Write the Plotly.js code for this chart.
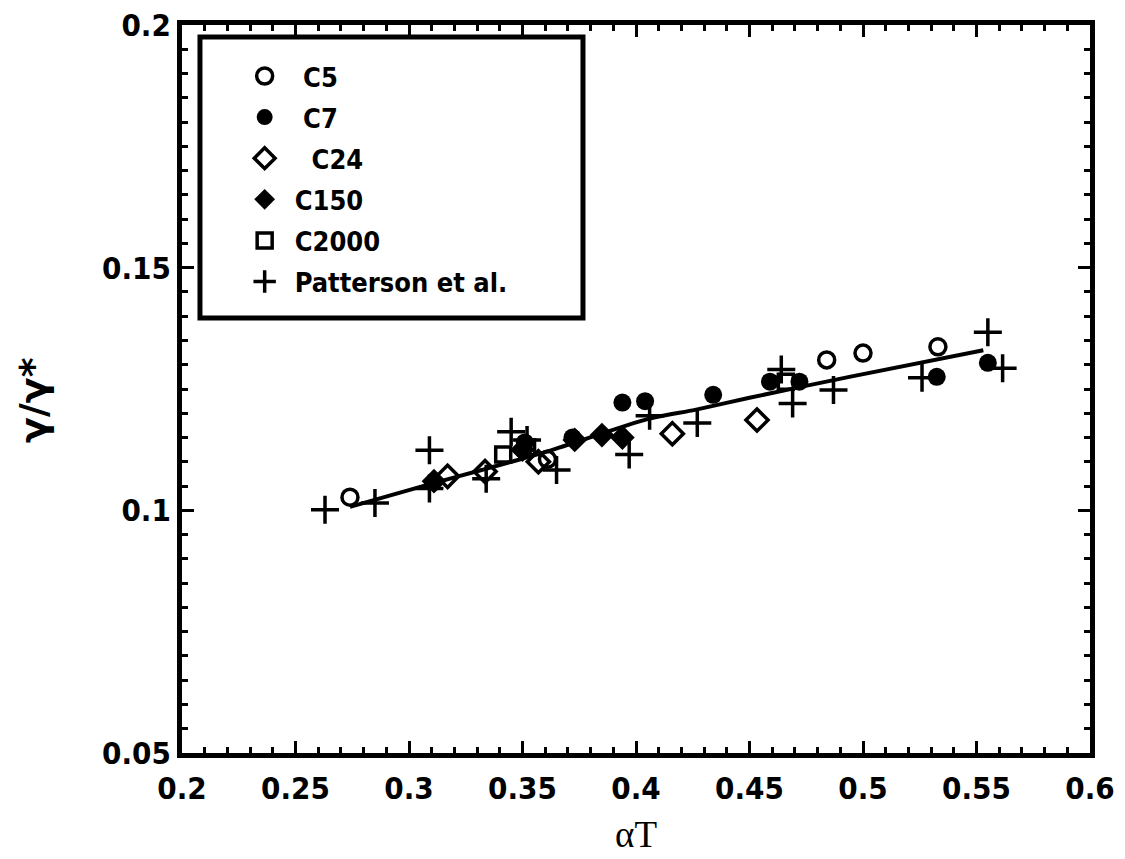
<!DOCTYPE html>
<html>
<head>
<meta charset="utf-8">
<script src="https://cdn.plot.ly/plotly-3.0.1.min.js"></script>
<style>html,body{margin:0;padding:0;background:#fff;}#chart{width:1125px;height:859px;}</style>
</head>
<body>
<div id="chart"></div>
<script>
// ---- data ----
const c5_x = [0.274, 0.361, 0.484, 0.500, 0.533];
const c5_y = [0.1027, 0.1105, 0.1310, 0.1324, 0.1337];

const c7_x = [0.351, 0.372, 0.394, 0.404, 0.434, 0.459, 0.472, 0.5325, 0.555];
const c7_y = [0.1140, 0.1150, 0.1222, 0.1225, 0.1238, 0.1265, 0.1265, 0.1275, 0.1304];

const c24_x = [0.317, 0.3335, 0.357, 0.416, 0.4533];
const c24_y = [0.1070, 0.1080, 0.1100, 0.1158, 0.1186];

const c150_x = [0.311, 0.350, 0.373, 0.385, 0.394];
const c150_y = [0.1060, 0.1125, 0.1145, 0.1155, 0.1150];

const c2000_x = [0.3415, 0.352, 0.466];
const c2000_y = [0.1115, 0.1130, 0.1265];

const patt_x = [0.263, 0.285, 0.309, 0.309, 0.334, 0.345, 0.352, 0.365, 0.397, 0.406, 0.427, 0.464, 0.469, 0.487, 0.526, 0.555, 0.5615];
const patt_y = [0.1001, 0.1015, 0.1124, 0.1045, 0.1065, 0.1162, 0.1145, 0.1083, 0.1115, 0.1195, 0.1180, 0.1290, 0.1220, 0.1248, 0.1273, 0.1367, 0.1293];

const fit_x = [0.274, 0.310, 0.332, 0.360, 0.405, 0.426, 0.450, 0.494, 0.553];
const fit_y = [0.1007, 0.1055, 0.1083, 0.1120, 0.1188, 0.1207, 0.1232, 0.1275, 0.1330];

const names = [' C5', ' C7', '  C24', 'C150', 'C2000', 'Patterson et al.'];
const xTitle = 'αT';
const yTitle = 'γ/γ*';
// --------------------------------------

const mk = (x, y, name, symbol, size, lw, grp) => ({
  type: 'scatter', mode: 'markers', x: x, y: y, name: name, legendgroup: grp,
  marker: {symbol: symbol, size: size, color: '#000', line: {color: '#000', width: lw}},
  cliponaxis: false
});

const traces = [
  {type: 'scatter', mode: 'lines', x: fit_x, y: fit_y, showlegend: false,
   line: {color: '#000', width: 4, shape: 'spline', smoothing: 0.6}},
  mk(c5_x, c5_y, names[0], 'circle-open', 16, 3.5, 'g1'),
  mk(c7_x, c7_y, names[1], 'circle', 18, 0, 'g2'),
  mk(c24_x, c24_y, names[2], 'diamond-open', 17, 3.5, 'g3'),
  mk(c150_x, c150_y, names[3], 'diamond', 19, 0, 'g4'),
  mk(c2000_x, c2000_y, names[4], 'square-open', 15, 3.5, 'g5'),
  mk(patt_x, patt_y, names[5], 'cross-thin-open', 20, 3.5, 'g6')
];

const tickFont = {family: '"DejaVu Sans Condensed", "Liberation Sans Narrow", "DejaVu Sans", sans-serif', size: 31, color: '#000', weight: 'bold'};

const axisCommon = {
  showline: true, linecolor: '#000', linewidth: 5, mirror: 'ticks',
  ticks: 'inside', ticklen: 12, tickwidth: 3, tickcolor: '#000',
  showgrid: false, zeroline: false, tickfont: tickFont, automargin: false,
  minor: {ticks: 'inside', ticklen: 6, tickwidth: 3, tickcolor: '#000', showgrid: false}
};

const layout = {
  width: 1125, height: 859,
  margin: {l: 182, r: 35, t: 25, b: 106},
  paper_bgcolor: '#fff', plot_bgcolor: '#fff',
  showlegend: true,
  xaxis: Object.assign({}, axisCommon, {
    range: [0.2, 0.6], tick0: 0.2, dtick: 0.05, ticklabelstandoff: 4,
    minor: Object.assign({}, axisCommon.minor, {dtick: 0.01})
  }),
  yaxis: Object.assign({}, axisCommon, {
    range: [0.05, 0.2], tick0: 0.05, dtick: 0.05,
    minor: Object.assign({}, axisCommon.minor, {dtick: 0.005})
  }),
  legend: {
    x: 0.058, y: 0.963, xanchor: 'left', yanchor: 'top',
    bgcolor: 'rgba(0,0,0,0)', borderwidth: 0, itemwidth: 50,
    traceorder: 'grouped', tracegroupgap: 3,
    font: {family: '"DejaVu Sans Condensed", "DejaVu Sans", sans-serif', size: 27, color: '#000', weight: 'bold'}
  },
  annotations: [
    {text: xTitle, xref: 'paper', yref: 'paper', x: 0.5, y: -0.1435, xanchor: 'center', yanchor: 'bottom',
     showarrow: false, font: {family: '"Liberation Serif", "DejaVu Serif", serif', size: 37, color: '#000'}},
    {text: yTitle, xref: 'paper', yref: 'paper', x: -0.164, y: 0.485, xanchor: 'center', yanchor: 'middle',
     textangle: -90, showarrow: false, font: {family: '"DejaVu Sans", sans-serif', size: 38, color: '#000', weight: 'bold'}}
  ],
  shapes: [{
    type: 'rect', xref: 'paper', yref: 'paper',
    x0: 0.0198, x1: 0.4416, y0: 0.5975, y1: 0.9835,
    line: {color: '#000', width: 5}, fillcolor: 'rgba(0,0,0,0)'
  }]
};

Plotly.newPlot('chart', traces, layout, {displayModeBar: false, staticPlot: true});
</script>
</body>
</html>
